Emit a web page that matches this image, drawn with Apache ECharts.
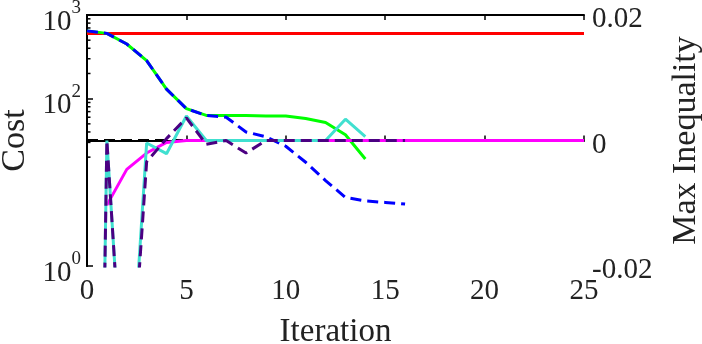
<!DOCTYPE html>
<html>
<head>
<meta charset="utf-8">
<script src="https://cdn.jsdelivr.net/npm/echarts@6/dist/echarts.min.js"></script>
<style>
  html, body { margin: 0; padding: 0; background: #fff; }
  #chart { width: 702px; height: 344px; }
</style>
</head>
<body>
<div id="chart"></div>
<script>
// iterations
const iters = Array.from({ length: 26 }, (_, i) => i)

// cost (left, log axis)
const costRed = [600, 600, 600, 600, 600, 600, 600, 600, 600, 600, 600, 600, 600,
  600, 600, 600, 600, 600, 600, 600, 600, 600, 600, 600, 600, 600]
const costGreen = [646, 603, 450, 285, 130, 76, 63, 63, 63, 62, 62, 58, 52, 37, 19]
const costBlue = [646, 603, 450, 285, 130, 76, 63, 60, 40, 35, 27, 17.4, 10.5, 6.6, 6.0, 5.75, 5.5]

// max inequality (right, linear axis)
const ineqRef = [0, 0, 0, 0, 0, 0, 0, 0, 0, 0, 0, 0, 0, 0, 0, 0, 0]
const ineqMagenta = [null, -0.0103, -0.0046, -0.002, -0.0003, 0, 0, 0, 0, 0, 0, 0, 0,
  0, 0, 0, 0, 0, 0, 0, 0, 0, 0, 0, 0, 0]
const ineqPurple = [-0.2, 0, -0.05, -0.0034, 0.0003, 0.0036, -0.0006, 0, -0.002, 0,
  0, 0, 0, 0, 0, 0, 0]
const ineqCyan = [-0.2, 0, -0.05, -0.0004, -0.0021, 0.0039, 0, 0, 0, 0, 0, 0, 0,
  0.0034, 0.0006]

// axis ticks
const xTicks = [0, 5, 10, 15, 20, 25]
const costLabels = [1, 100, 1000]
const costMajor = [1, 100, 1000]
const costMinor = [20, 30, 40, 50, 60, 70, 80, 90,
  200, 300, 400, 500, 600, 700, 800, 900]
const ineqTicks = [-0.02, 0, 0.02]

const font = 'Liberation Serif'
const pair = arr => arr.map((v, i) => [iters[i], v])

const chart = echarts.init(document.getElementById('chart'))

const line = (name, data, color, yIdx, dashed, z) => ({
  name,
  type: 'line',
  data: pair(data),
  yAxisIndex: yIdx,
  symbol: 'none',
  connectNulls: false,
  clip: true,
  z,
  lineStyle: { color, width: 3, type: dashed ? [11, 6] : 'solid', cap: 'butt' }
})

// minor ticks of the log axis, drawn through the axis scale
const minorTicks = {
  type: 'custom',
  yAxisIndex: 0,
  silent: true,
  z: 1,
  clip: false,
  data: costMinor.map(v => [0, v]),
  renderItem: (params, api) => {
    const p = api.coord([0, api.value(1)])
    return {
      type: 'line',
      shape: { x1: p[0], y1: p[1], x2: p[0] + 3.5, y2: p[1] },
      style: { stroke: '#000', lineWidth: 1.5 }
    }
  }
}

chart.setOption({
  animation: false,
  grid: { left: 87, right: 118, top: 15, bottom: 78, outerBoundsMode: 'none' },
  xAxis: [{
    type: 'value', min: 0, max: 25, interval: 5,
    name: 'Iteration', nameLocation: 'middle', nameGap: 50,
    nameTextStyle: { fontFamily: font, fontSize: 33, color: '#222' },
    axisLine: { lineStyle: { color: '#000', width: 2 } },
    axisTick: { inside: true, length: 5, lineStyle: { color: '#000', width: 1.5 } },
    axisLabel: { fontFamily: font, fontSize: 29, color: '#222', margin: 11,
      customValues: xTicks },
    splitLine: { show: false }
  }, {
    type: 'value', min: 0, max: 25, interval: 5, position: 'top',
    axisLine: { lineStyle: { color: '#000', width: 2 } },
    axisTick: { inside: true, length: 5, lineStyle: { color: '#000', width: 1.5 } },
    axisLabel: { show: false },
    splitLine: { show: false }
  }],
  yAxis: [{
    type: 'log', logBase: 10, min: 1, max: 1000,
    name: 'Cost', nameLocation: 'middle', nameGap: 55,
    nameTextStyle: { fontFamily: font, fontSize: 34, color: '#222' },
    axisLine: { show: true, lineStyle: { color: '#000', width: 2 } },
    axisTick: { inside: true, length: 6, customValues: costMajor,
      lineStyle: { color: '#000', width: 1.5 } },
    axisLabel: {
      customValues: costLabels, margin: 6,
      formatter: v => '{b|10}{s|' + Math.round(Math.log10(v)) + '}',
      rich: {
        b: { fontFamily: font, fontSize: 29, color: '#222', verticalAlign: 'bottom',
          padding: [14, 0, 0, 0] },
        s: { fontFamily: font, fontSize: 19, color: '#222', verticalAlign: 'bottom',
          padding: [0, 0, 19, 0] }
      }
    },
    splitLine: { show: false }
  }, {
    type: 'value', min: -0.02, max: 0.02, interval: 0.02, position: 'right',
    name: 'Max Inequality', nameLocation: 'middle', nameGap: 85, nameRotate: 90,
    nameTextStyle: { fontFamily: font, fontSize: 34, color: '#222' },
    axisLine: { show: true, lineStyle: { color: '#000', width: 2 } },
    axisTick: { show: false },
    axisLabel: { margin: 8,
      customValues: ineqTicks,
      formatter: v => '{v|' + (v === 0 ? '0' : String(v)) + '}',
      rich: {
        v: { fontFamily: font, fontSize: 29, color: '#222', padding: [9, 0, 0, 0] }
      }
    },
    splitLine: { show: false }
  }],
  series: [
    minorTicks,
    line('red', costRed, '#ff0000', 0, false, 2),
    line('green', costGreen, '#00ff00', 0, false, 3),
    line('blue', costBlue, '#0000ff', 0, true, 4),
    line('ref', ineqRef, '#000000', 1, true, 5),
    line('magenta', ineqMagenta, '#ff00ff', 1, false, 6),
    line('cyan', ineqCyan, '#40e0d0', 1, false, 7),
    line('purple', ineqPurple, '#4b0082', 1, true, 8)
  ]
})
</script>
</body>
</html>
